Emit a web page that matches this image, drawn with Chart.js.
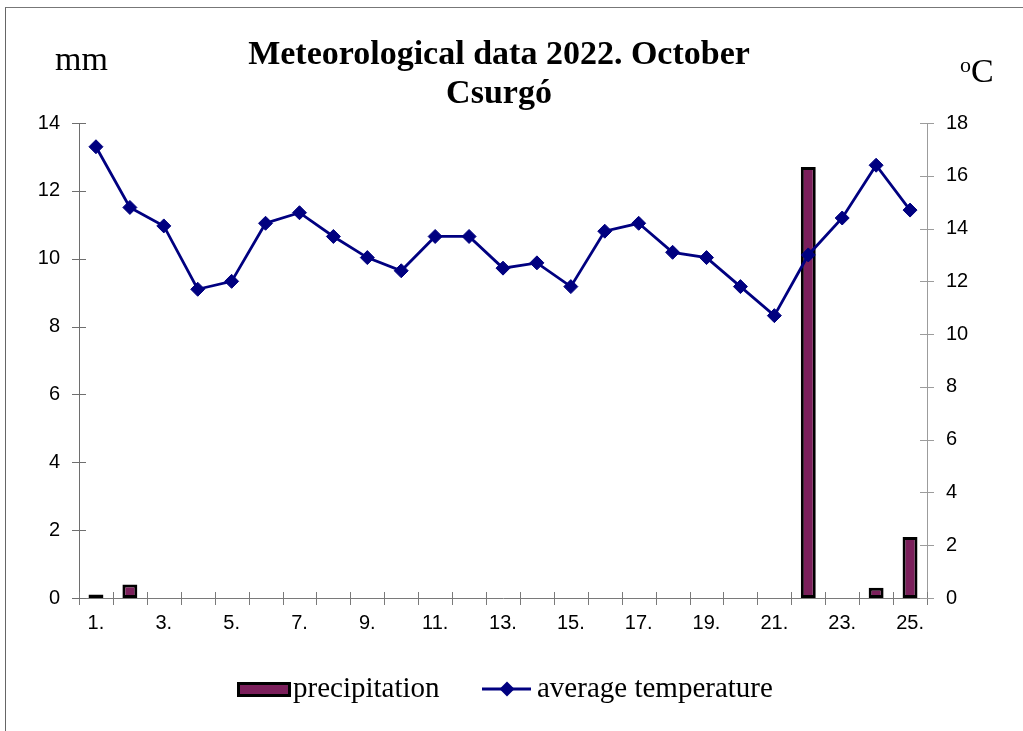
<!DOCTYPE html>
<html>
<head>
<meta charset="utf-8">
<title>Meteorological data 2022. October – Csurgó</title>
<script src="https://cdn.jsdelivr.net/npm/chart.js@4/dist/chart.umd.min.js"></script>
<style>
  html, body { margin: 0; padding: 0; background: #ffffff; }
  #wrap { position: relative; width: 1023px; height: 731px; overflow: hidden; }
  #frame { position: absolute; left: 5px; top: 7px; width: 1100px; height: 800px;
           border-left: 1px solid #666666; border-top: 1px solid #777777; box-sizing: border-box; }
  canvas { position: absolute; left: 0; top: 0; }
</style>
</head>
<body>
<div id="wrap">
  <div id="frame"></div>
  <canvas id="chart" width="1023" height="731"></canvas>
</div>
<script>
// Days of October 2022
const days = ["1.", "2.", "3.", "4.", "5.", "6.", "7.", "8.", "9.", "10.",
              "11.", "12.", "13.", "14.", "15.", "16.", "17.", "18.", "19.", "20.",
              "21.", "22.", "23.", "24.", "25."];

// Daily precipitation, mm
const precipitation = [0.1, 0.4, 0, 0, 0, 0, 0, 0, 0, 0,
                       0, 0, 0, 0, 0, 0, 0, 0, 0, 0,
                       0, 12.7, 0, 0.3, 1.8];

// Daily average temperature, °C
const avgTemperature = [17.1, 14.8, 14.1, 11.7, 12.0, 14.2, 14.6, 13.7, 12.9, 12.4,
                        13.7, 13.7, 12.5, 12.7, 11.8, 13.9, 14.2, 13.1, 12.9, 11.8,
                        10.7, 13.0, 14.4, 16.4, 14.7];

// Axis ranges and labels
const mmTicks = [0, 2, 4, 6, 8, 10, 12, 14];
const tempTicks = [0, 2, 4, 6, 8, 10, 12, 14, 16, 18];
const titleLines = ["Meteorological data 2022. October", "Csurgó"];
const leftUnit = "mm";
const rightUnit = ["o", "C"];
const legendLabels = ["precipitation", "average temperature"];

const BAR_FILL = "#7b1f5b";
const LINE_COLOR = "#000080";
const SERIF = "'Liberation Serif', 'Times New Roman', serif";
const SANS = "'Liberation Sans', Arial, sans-serif";

// Axis lines with tick marks crossing them
const crossTicks = {
  id: "crossTicks",
  afterDraw(chart) {
    const ctx = chart.ctx;
    const x = chart.scales.x, yL = chart.scales.yL, yR = chart.scales.yR;
    ctx.save();
    ctx.lineWidth = 1;
    // category separators on the x axis
    ctx.strokeStyle = "#7a7a7a";
    for (let i = 0; i <= days.length; i++) {
      const px = Math.round(x.getPixelForValue(i - 0.5)) + 0.5;
      ctx.beginPath();
      ctx.moveTo(px, x.top - 6);
      ctx.lineTo(px, x.top + 7);
      ctx.stroke();
    }
    // left axis
    ctx.strokeStyle = "#6e6e6e";
    mmTicks.forEach(v => {
      const py = Math.round(yL.getPixelForValue(v)) + 0.5;
      ctx.beginPath();
      ctx.moveTo(yL.right - 7, py);
      ctx.lineTo(yL.right + 7, py);
      ctx.stroke();
    });
    // right axis
    ctx.strokeStyle = "#9c9c9c";
    tempTicks.forEach(v => {
      const py = Math.round(yR.getPixelForValue(v)) + 0.5;
      ctx.beginPath();
      ctx.moveTo(yR.left - 7, py);
      ctx.lineTo(yR.left + 7, py);
      ctx.stroke();
    });
    ctx.restore();
  }
};

// Title, unit captions and the legend row
const decorations = {
  id: "decorations",
  afterDraw(chart) {
    const ctx = chart.ctx;
    ctx.save();
    ctx.fillStyle = "#000";
    ctx.textAlign = "center";
    ctx.textBaseline = "alphabetic";
    ctx.font = "bold 34px " + SERIF;
    ctx.fillText(titleLines[0], 499, 64);
    ctx.fillText(titleLines[1], 499, 103);

    ctx.textAlign = "left";
    ctx.font = "34px " + SERIF;
    ctx.fillText(leftUnit, 55, 70);
    ctx.font = "22px " + SERIF;
    ctx.fillText(rightUnit[0], 960, 72);
    ctx.font = "34px " + SERIF;
    ctx.fillText(rightUnit[1], 971, 82);

    // legend: precipitation swatch
    const ly = 689;
    ctx.fillStyle = BAR_FILL;
    ctx.fillRect(238, ly - 6, 52, 13);
    ctx.strokeStyle = "#000";
    ctx.lineWidth = 3;
    ctx.strokeRect(238.5, ly - 5.5, 51, 12);
    ctx.fillStyle = "#000";
    ctx.font = "29px " + SERIF;
    ctx.fillText(legendLabels[0], 293, ly + 8);

    // legend: temperature swatch
    ctx.strokeStyle = LINE_COLOR;
    ctx.lineWidth = 2.8;
    ctx.beginPath();
    ctx.moveTo(482, ly);
    ctx.lineTo(531, ly);
    ctx.stroke();
    ctx.fillStyle = LINE_COLOR;
    ctx.beginPath();
    ctx.moveTo(507, ly - 7.5);
    ctx.lineTo(514.5, ly);
    ctx.lineTo(507, ly + 7.5);
    ctx.lineTo(499.5, ly);
    ctx.closePath();
    ctx.fill();
    ctx.fillStyle = "#000";
    ctx.fillText(legendLabels[1], 537, ly + 8);
    ctx.restore();
  }
};

new Chart(document.getElementById("chart"), {
  type: "bar",
  data: {
    labels: days,
    datasets: [
      {
        type: "bar",
        label: legendLabels[0],
        data: precipitation,
        yAxisID: "yL",
        backgroundColor: BAR_FILL,
        borderColor: "#000000",
        borderWidth: 3,
        borderSkipped: false,
        barPercentage: 0.44,
        categoryPercentage: 1,
        order: 2
      },
      {
        type: "line",
        label: legendLabels[1],
        data: avgTemperature,
        yAxisID: "yR",
        borderColor: LINE_COLOR,
        borderWidth: 2.8,
        tension: 0,
        pointStyle: "rectRot",
        pointRadius: 7,
        pointBackgroundColor: LINE_COLOR,
        pointBorderColor: LINE_COLOR,
        pointBorderWidth: 1,
        order: 1
      }
    ]
  },
  options: {
    responsive: false,
    animation: false,
    devicePixelRatio: 1,
    layout: { padding: { top: 123, left: 0, right: 0, bottom: 0 } },
    plugins: {
      legend: { display: false },
      title: { display: false },
      tooltip: { enabled: false }
    },
    scales: {
      x: {
        offset: true,
        grid: { display: false, offset: true },
        border: { display: true, color: "#7a7a7a", width: 1 },
        ticks: {
          autoSkip: false,
          maxRotation: 0,
          padding: 5,
          color: "#000",
          font: { family: SANS, size: 20 },
          callback: (v, i) => (i % 2 === 0 ? days[i] : "")
        },
        afterFit: s => { s.height = 133; }
      },
      yL: {
        position: "left",
        min: 0,
        max: 14,
        grid: { display: false },
        border: { display: true, color: "#6e6e6e", width: 1 },
        ticks: {
          stepSize: 2,
          padding: 11,
          color: "#000",
          font: { family: SANS, size: 20 }
        },
        afterFit: s => { s.width = 79; }
      },
      yR: {
        position: "right",
        min: 0,
        max: 18,
        grid: { display: false },
        border: { display: true, color: "#9c9c9c", width: 1 },
        ticks: {
          stepSize: 2,
          padding: 11,
          color: "#000",
          font: { family: SANS, size: 20 }
        },
        afterFit: s => { s.width = 96; }
      }
    }
  },
  plugins: [crossTicks, decorations]
});
</script>
</body>
</html>
